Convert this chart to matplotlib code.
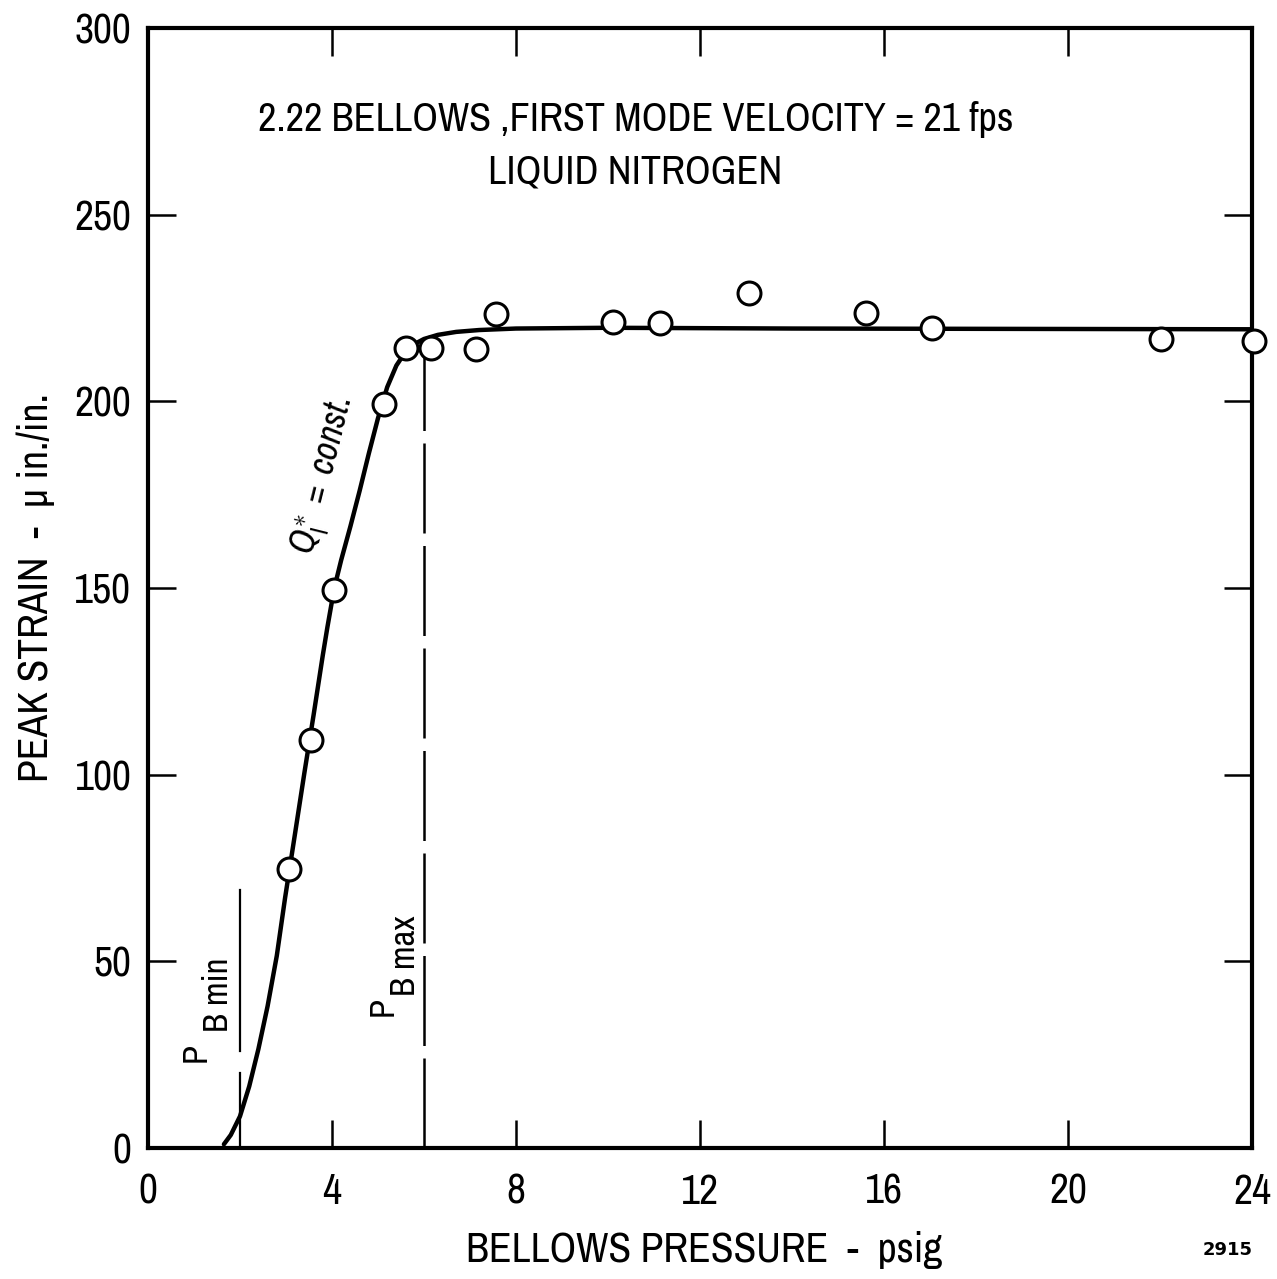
import matplotlib
matplotlib.use("Agg")
import matplotlib.pyplot as plt
from matplotlib import font_manager

# Measured peak strain vs bellows pressure
pressure = [3.07, 3.54, 4.04, 5.13, 5.61, 6.15, 7.13, 7.57, 10.1, 11.13, 13.07, 15.6, 17.04, 22.02, 24.04]
strain = [74.7, 109.3, 149.5, 199.3, 214.3, 214.3, 214.0, 223.4, 221.3, 221.0, 229.0, 223.7, 219.7, 216.7, 216.2]

# Faired curve (Q1* = const.)
curve_p = [1.65, 1.8, 2.0, 2.2, 2.4, 2.6, 2.8, 2.98, 3.2, 3.4, 3.6, 3.8, 3.9, 4.0, 4.1, 4.2, 4.4,
           4.6, 4.8, 5.0, 5.2, 5.4, 5.6, 5.8, 6.0, 6.3, 6.7, 7.2, 8.0, 10.0, 14.0, 24.0]
curve_s = [1.0, 3.5, 8.5, 16.5, 26.5, 38.0, 51.5, 67.0, 84.5, 100.5, 116.0, 132.0, 139.5, 146.5, 152.5,
           157.5, 166.5, 176.0, 186.0, 195.5, 203.8, 209.6, 213.3, 215.4, 216.7, 217.8, 218.6, 219.1,
           219.5, 219.7, 219.5, 219.3]

# Pressure limits
pb_min = 2.0
pb_min_segments = [(0, 20), (26, 69)]
pb_max = 6.0
pb_max_top = 213

x_ticks = [0, 4, 8, 12, 16, 20, 24]
y_ticks = [0, 50, 100, 150, 200, 250, 300]

# Prefer a narrow lettering face when one is installed
fonts = font_manager.fontManager.ttflist
family, stretch = "DejaVu Sans", "normal"
narrow = [f.name for f in fonts if "Narrow" in f.name or "Condensed" in f.name]
if narrow:
    family = sorted(narrow)[0]
else:
    cond = [f.name for f in fonts if str(f.stretch) in ("condensed", "semi-condensed", "extra-condensed")]
    if cond:
        family = "DejaVu Sans" if "DejaVu Sans" in cond else cond[0]
        stretch = "condensed"

plt.rcParams["font.family"] = [family, "DejaVu Sans"]
plt.rcParams["font.stretch"] = stretch
plt.rcParams["mathtext.fontset"] = "custom"
plt.rcParams["mathtext.rm"] = family
plt.rcParams["mathtext.it"] = family + ":italic"

fig = plt.figure(figsize=(12.77, 12.79), dpi=100)
ax = fig.add_axes([148 / 1277, 1 - 1148 / 1279, (1252 - 148) / 1277, (1148 - 28) / 1279])

ax.set_xlim(0, 24)
ax.set_ylim(0, 300)

ax.plot(curve_p, curve_s, color="black", lw=3.2, solid_capstyle="round", solid_joinstyle="round", zorder=3)
ax.plot(pressure, strain, "o", ms=16.5, mfc="white", mec="black", mew=2.2, zorder=4, clip_on=False)

# P_B min / P_B max markers
for y0, y1 in pb_min_segments:
    ax.plot([pb_min, pb_min], [y0, y1], color="black", lw=1.6, zorder=2)
ax.plot([pb_max, pb_max], [0, pb_max_top], color="black", lw=1.8, dashes=(36, 5), zorder=2)

# Labels for the pressure limits: letter P with the "B min"/"B max" qualifier beside it
ax.text(1.04, 25.5, "P", rotation=90, ha="center", va="center", fontsize=25)
ax.text(1.52, 41.0, "B min", rotation=90, ha="center", va="center", fontsize=25)
ax.text(5.10, 37.8, "P", rotation=90, ha="center", va="center", fontsize=25)
ax.text(5.58, 51.5, "B max", rotation=90, ha="center", va="center", fontsize=25)

ax.text(3.82, 180, r"$Q_{\mathregular{I}}^{\ast}\ \mathregular{=}\ const.$", rotation=76,
        ha="center", va="center", fontsize=26)

ax.text(10.6, 275.5, "2.22 BELLOWS ,FIRST MODE VELOCITY = 21 fps", ha="center", va="center", fontsize=29)
ax.text(10.6, 261.5, "LIQUID NITROGEN", ha="center", va="center", fontsize=29)

ax.set_xticks(x_ticks)
ax.set_yticks(y_ticks)
ax.set_xticklabels([str(v) for v in x_ticks])
ax.set_yticklabels([str(v) for v in y_ticks])
ax.tick_params(direction="in", length=20, width=1.8, labelsize=30, top=True, right=True,
               colors="black")
ax.tick_params(axis="x", pad=18)
ax.tick_params(axis="y", pad=12)
for s in ax.spines.values():
    s.set_linewidth(3)

ax.set_xlabel("BELLOWS PRESSURE  -  psig", fontsize=30)
ax.xaxis.set_label_coords(0.504, -0.091)
ax.xaxis.label.set_va("center")
ax.set_ylabel("PEAK STRAIN  -  \u03bc in./in.", fontsize=30)
ax.yaxis.set_label_coords(-0.102, 0.5)
ax.yaxis.label.set_va("center")

fig.text(1228 / 1277, 1 - 1250 / 1279, "2915", ha="center", va="center", fontsize=13, fontweight="bold",
         family="DejaVu Sans")

fig.savefig("out.png", dpi=100, facecolor="white")
